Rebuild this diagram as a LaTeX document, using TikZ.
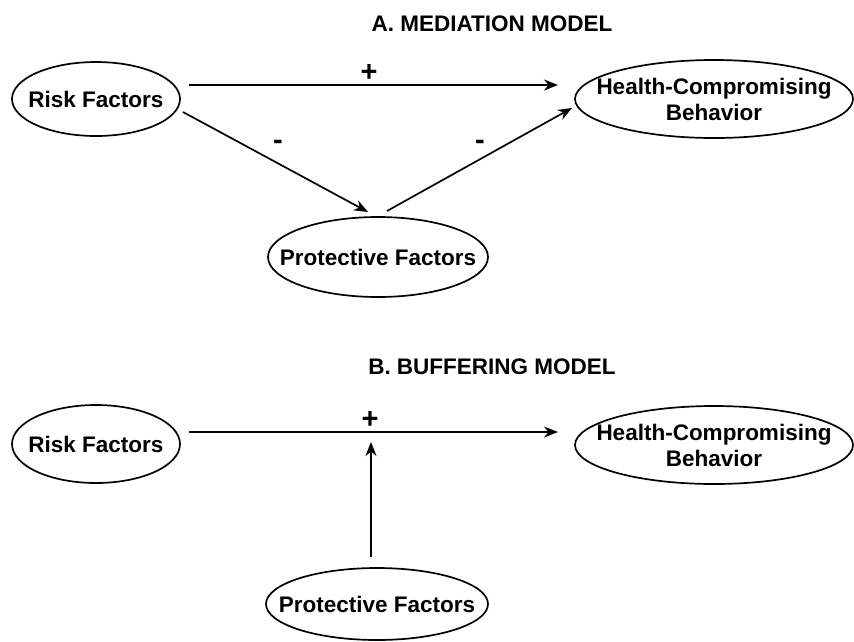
\documentclass[tikz,border=0pt]{standalone}
\usepackage{fontspec}
\setmainfont{Liberation Sans}
\usetikzlibrary{shapes.geometric,arrows.meta,calc}
\begin{document}
\begin{tikzpicture}[x=1pt,y=-1pt,
  ell/.style={draw, ellipse, line width=1.7pt, inner sep=0pt},
  lbl/.style={font=\fontsize{22.5}{26}\selectfont\bfseries, align=center, inner sep=0pt},
  ttl/.style={font=\fontsize{22.5}{26}\selectfont\bfseries, inner sep=0pt},
  sgn/.style={font=\fontsize{29}{30}\selectfont\bfseries, inner sep=0pt},
  arr/.style={line width=1.7pt, -{Stealth[length=14pt,width=11pt]}}
]
\useasboundingbox (0,0) rectangle (854,641);
% titles
\node[ttl] (titleA) at (492,24) {A. MEDIATION MODEL};
\node[ttl] (titleB) at (492,367) {B. BUFFERING MODEL};
% model A
\node[ell, minimum width=168pt, minimum height=74pt] (riskA) at (96,99) {};
\node[lbl] (riskAt) at (riskA.center) {Risk Factors};
\node[ell, minimum width=278pt, minimum height=78pt] (healthA) at (714,99) {};
\node[lbl] (healthAt) at (healthA.center) {Health-Compromising\\Behavior};
\node[ell, minimum width=220pt, minimum height=80pt] (protA) at (378,257) {};
\node[lbl] (protAt) at (protA.center) {Protective Factors};
\draw[arr] ($(riskA.center)+(93,-14)$) coordinate (a1s) -- ($(healthA.center)+(-156,-14)$) coordinate (a1e);
\node[sgn] (plusA) at (369,73) {+};
\draw[arr] ($(riskA.center)+(87,13)$) -- ($(protA.center)+(-10,-45)$);
\node[sgn] (minA1) at (278,145) {-};
\draw[arr] ($(protA.center)+(9,-46)$) -- ($(healthA.center)+(-142,9)$);
\node[sgn] (minA2) at (480,145) {-};
% model B
\node[ell, minimum width=168pt, minimum height=78pt] (riskB) at (96,444) {};
\node[lbl] (riskBt) at (riskB.center) {Risk Factors};
\node[ell, minimum width=278pt, minimum height=78pt] (healthB) at (714,445) {};
\node[lbl] (healthBt) at (healthB.center) {Health-Compromising\\Behavior};
\node[ell, minimum width=222pt, minimum height=72pt] (protB) at (377,604) {};
\node[lbl] (protBt) at (protB.center) {Protective Factors};
\draw[arr] ($(riskB.center)+(93,-12)$) coordinate (b1s) -- ($(healthB.center)+(-156,-13)$) coordinate (b1e);
\node[sgn] (plusB) at (370,420) {+};
\draw[arr] ($(protB.center)+(-6,-47)$) -- ($(protB.center)+(-6,-162)$) coordinate (b2e);
\end{tikzpicture}
\end{document}
